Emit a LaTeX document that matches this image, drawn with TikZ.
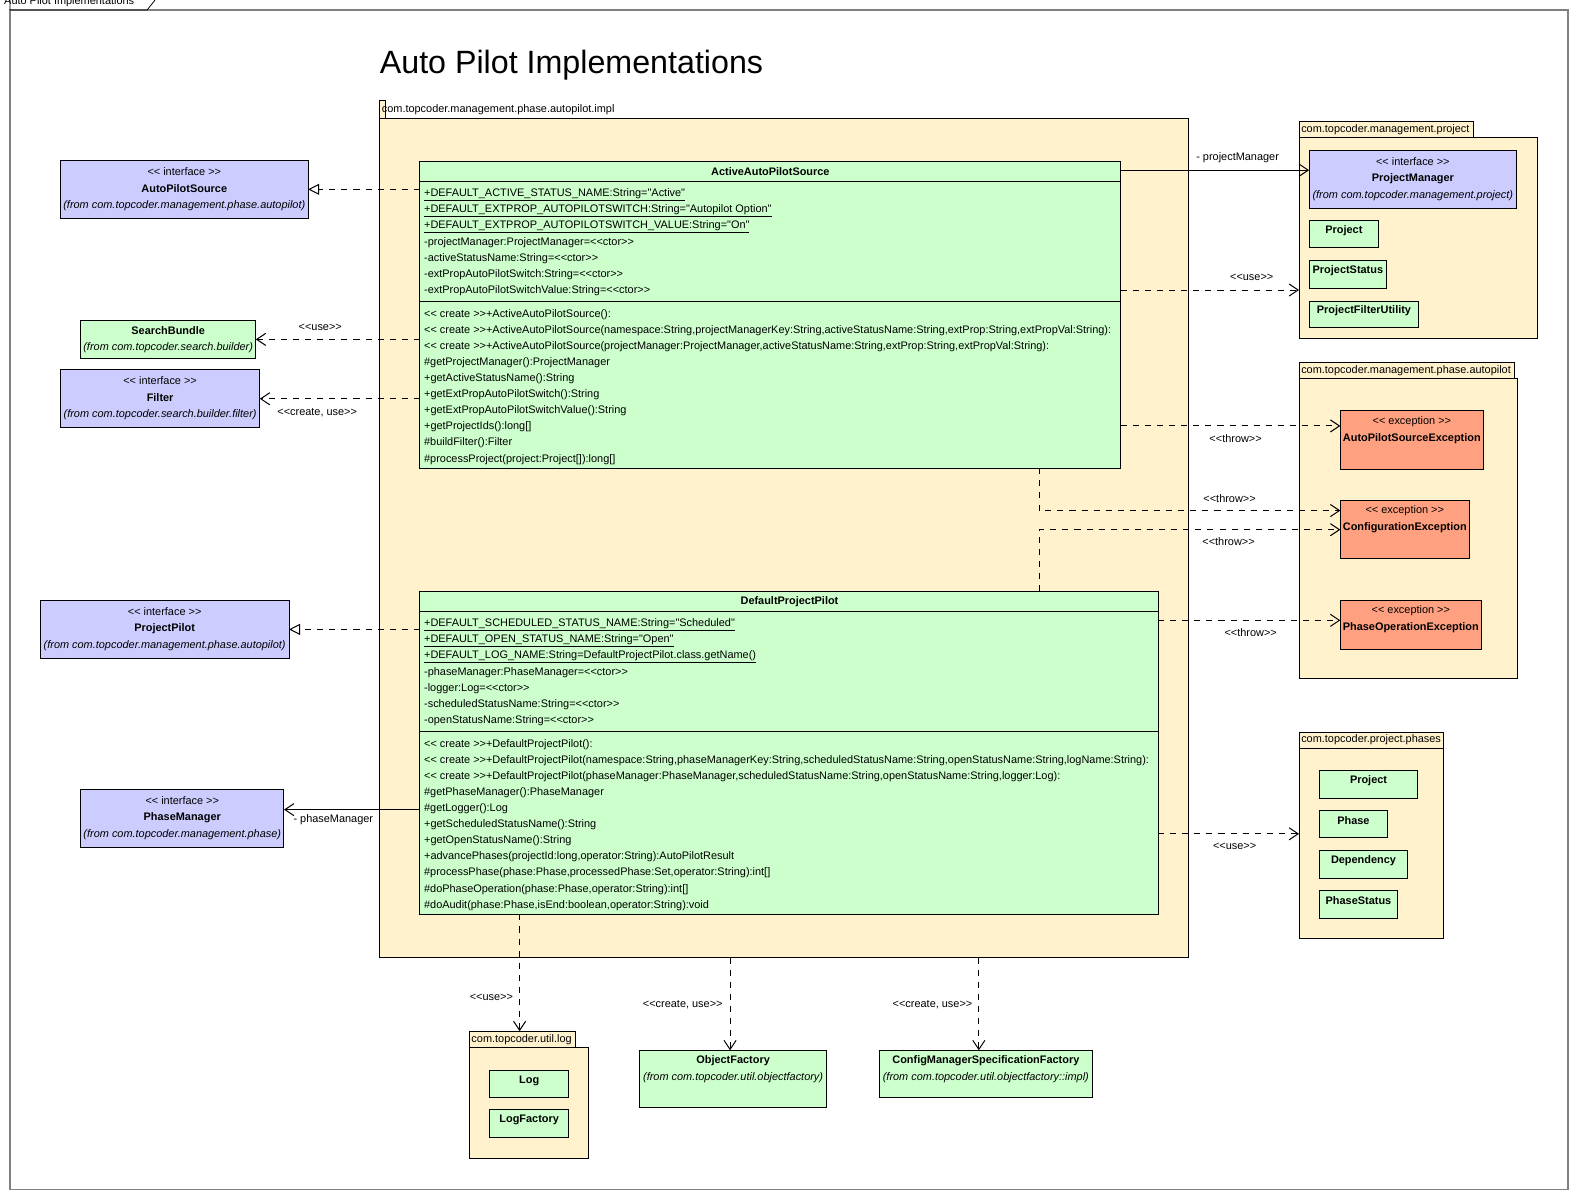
\documentclass[tikz,border=0pt]{standalone}
\usepackage{fontspec}
\setmainfont{Liberation Sans}[Ligatures=TeXOff]
\usepackage{xcolor}
\usetikzlibrary{arrows.meta}
\usetikzlibrary{calc}

\definecolor{pkgcream}{RGB}{255,242,204}
\definecolor{clsgreen}{RGB}{204,255,204}
\definecolor{ifcblue}{RGB}{204,204,255}
\definecolor{excred}{RGB}{255,160,128}
\definecolor{framegray}{RGB}{128,128,128}

\begin{document}
\begin{tikzpicture}[x=1pt,y=-1pt]
        \tikzset{
          box/.style={draw=black, line width=1pt, anchor=north west, inner sep=0pt, outer sep=0pt},
          pkg/.style={box, fill=pkgcream},
          cls/.style={box, fill=clsgreen},
          ifc/.style={box, fill=ifcblue},
          exc/.style={box, fill=excred},
          txt/.style={inner sep=0pt, font=\fontsize{10.85}{13}\selectfont},
          row/.style={txt, anchor=west},
          bname/.style={txt, font=\fontsize{10.85}{13}\selectfont\bfseries},
          from/.style={txt, font=\fontsize{10.85}{13}\selectfont\itshape},
          lbl/.style={txt},
          dep/.style={line width=1pt, dash pattern=on 6pt off 6pt, -{Straight Barb[length=9pt,width=12pt]}},
          real/.style={line width=1pt, dash pattern=on 6pt off 6pt, -{Triangle[open,length=11pt,width=11pt]}},
          assoc/.style={line width=1pt, -{Straight Barb[length=9pt,width=12pt]}}
        }
        \useasboundingbox (0,0) rectangle (1569,1192);

        % — diagram frame and title —
        \draw[framegray, line width=1.3pt] (10,10) rectangle (1557,1181);
        \node[row, anchor=base west] (frm) at (4,4) {Auto Pilot Implementations};
        \draw[line width=0.8pt] (10,0) -- (10,10) -- (146,10) -- (154,0);
        \node[anchor=base west, inner sep=0pt, font=\fontsize{32}{36}\selectfont] (title) at (377,73) {Auto Pilot Implementations};

        % — packages —
        \node[pkg, minimum width=6, minimum height=18] (impl-tab) at (377,100) {};
        \node[pkg, minimum width=803, minimum height=833] (impl) at (377,118) {};
        \node[row] (impl-label) at (379,109) {com.topcoder.management.phase.autopilot.impl};
        \foreach \n/\xa/\ya/\w/\tw/\h/\name in {
            prjPkg/1290/121/237/173/199/com.topcoder.management.project,
            apPkg/1290/360/217/214/298/com.topcoder.management.phase.autopilot,
            phPkg/1290/727/143/143/189/com.topcoder.project.phases,
            logPkg/466/1024/118/105/110/com.topcoder.util.log} {
          \node[pkg, minimum width=\tw, minimum height=16] (\n-tab) at (\xa,\ya) {};
          \node[pkg, minimum width=\w, minimum height=\h] (\n) at (\xa,\ya+16) {};
          \node[row] (\n-label) at (\xa+2,\ya+8) {\name};
        }

        % — plain classes (name only) —
        \foreach \n/\xa/\ya/\w/\h/\name in {
            prj/1300/219/69/27/Project, prjSt/1300/259/77/27/ProjectStatus,
            prjFlt/1300/299/109/26/ProjectFilterUtility,
            phPrj/1310/765/98/28/Project, phPh/1310/805/68/27/Phase,
            phDep/1310/845/88/27/Dependency, phSt/1310/884/78/28/PhaseStatus,
            log/486/1063/79/27/Log, logF/486/1102/79/28/LogFactory} {
          \node[cls, minimum width=\w, minimum height=\h] (\n) at (\xa,\ya) {};
          \node[bname] (\n-name) at (\xa+\w/2,\ya+10) {\name};
        }

        % — interfaces —
        \foreach \n/\xa/\ya/\w/\name/\pk in {
            aps/60/159/246/AutoPilotSource/com.topcoder.management.phase.autopilot,
            flt/60/367/198/Filter/com.topcoder.search.builder.filter,
            pp/40/596/247/ProjectPilot/com.topcoder.management.phase.autopilot,
            pm/80/784/202/PhaseManager/com.topcoder.management.phase,
            prm/1300/149/206/ProjectManager/com.topcoder.management.project} {
          \node[ifc, minimum width=\w, minimum height=58] (\n) at (\xa,\ya) {};
          \node[txt] (\n-st) at (\xa+\w/2,\ya+11) {<< interface >>};
          \node[bname] (\n-name) at (\xa+\w/2,\ya+28) {\name};
          \node[from] (\n-from) at (\xa+\w/2,\ya+45) {(from \pk)};
        }

        % — classes from other components —
        \foreach \n/\xa/\ya/\w/\h/\name/\pk in {
            sb/80/318/174/38/SearchBundle/com.topcoder.search.builder,
            objf/635/1043/186/57/ObjectFactory/com.topcoder.util.objectfactory,
            cmsf/873/1043/212/47/ConfigManagerSpecificationFactory/com.topcoder.util.objectfactory::impl} {
          \node[cls, minimum width=\w, minimum height=\h] (\n) at (\xa,\ya) {};
          \node[bname] (\n-name) at (\xa+\w/2,\ya+10.5) {\name};
          \node[from] (\n-from) at (\xa+\w/2,\ya+27.5) {(from \pk)};
        }

        % — exceptions —
        \foreach \n/\ya/\w/\h/\name in {
            exA/408/142/58/AutoPilotSourceException,
            exC/497/128/58/ConfigurationException,
            exP/596/140/49/PhaseOperationException} {
          \node[exc, minimum width=\w, minimum height=\h] (\n) at (1331,\ya) {};
          \node[txt] (\n-st) at (1331+\w/2,\ya+10.5) {<< exception >>};
          \node[bname] (\n-name) at (1331+\w/2,\ya+27.5) {\name};
        }

        % — ActiveAutoPilotSource —
        \node[cls, minimum width=696, minimum height=305] (aaps) at (417,160) {};
        \node[bname] (aaps-name) at (765,170.5) {ActiveAutoPilotSource};
        \draw[line width=1pt] (417,180) -- (1113,180);
        \draw[line width=1pt] (417,299) -- (1113,299);
        \foreach \t [count=\i] in {
            \underline{+DEFAULT\_ACTIVE\_STATUS\_NAME:String="Active"},
            \underline{+DEFAULT\_EXTPROP\_AUTOPILOTSWITCH:String="Autopilot Option"},
            \underline{+DEFAULT\_EXTPROP\_AUTOPILOTSWITCH\_VALUE:String="On"},
            -projectManager:ProjectManager=<<ctor>>,
            -activeStatusName:String=<<ctor>>,
            -extPropAutoPilotSwitch:String=<<ctor>>,
            -extPropAutoPilotSwitchValue:String=<<ctor>>} {
          \node[row] (aaps-a\i) at (421,177+16*\i) {\t};
        }
        \foreach \t [count=\i] in {
            << create >>+ActiveAutoPilotSource():,
            {<< create >>+ActiveAutoPilotSource(namespace:String,projectManagerKey:String,activeStatusName:String,extProp:String,extPropVal:String):},
            {<< create >>+ActiveAutoPilotSource(projectManager:ProjectManager,activeStatusName:String,extProp:String,extPropVal:String):},
            \#getProjectManager():ProjectManager,
            +getActiveStatusName():String,
            +getExtPropAutoPilotSwitch():String,
            +getExtPropAutoPilotSwitchValue():String,
            +getProjectIds():long[],
            \#buildFilter():Filter,
            \#processProject(project:Project[]):long[]} {
          \node[row] (aaps-m\i) at (421,296+16*\i) {\t};
        }

        % — DefaultProjectPilot —
        \node[cls, minimum width=733, minimum height=321] (dpp) at (417,587) {};
        \node[bname] (dpp-name) at (784,597.5) {DefaultProjectPilot};
        \draw[line width=1pt] (417,607) -- (1150,607);
        \draw[line width=1pt] (417,726) -- (1150,726);
        \foreach \t [count=\i] in {
            \underline{+DEFAULT\_SCHEDULED\_STATUS\_NAME:String="Scheduled"},
            \underline{+DEFAULT\_OPEN\_STATUS\_NAME:String="Open"},
            \underline{+DEFAULT\_LOG\_NAME:String=DefaultProjectPilot.class.getName()},
            -phaseManager:PhaseManager=<<ctor>>,
            -logger:Log=<<ctor>>,
            -scheduledStatusName:String=<<ctor>>,
            -openStatusName:String=<<ctor>>} {
          \node[row] (dpp-a\i) at (421,604+16*\i) {\t};
        }
        \foreach \t [count=\i] in {
            << create >>+DefaultProjectPilot():,
            {<< create >>+DefaultProjectPilot(namespace:String,phaseManagerKey:String,scheduledStatusName:String,openStatusName:String,logName:String):},
            {<< create >>+DefaultProjectPilot(phaseManager:PhaseManager,scheduledStatusName:String,openStatusName:String,logger:Log):},
            \#getPhaseManager():PhaseManager,
            \#getLogger():Log,
            +getScheduledStatusName():String,
            +getOpenStatusName():String,
            {+advancePhases(projectId:long,operator:String):AutoPilotResult},
            {\#processPhase(phase:Phase,processedPhase:Set,operator:String):int[]},
            {\#doPhaseOperation(phase:Phase,operator:String):int[]},
            {\#doAudit(phase:Phase,isEnd:boolean,operator:String):void}} {
          \node[row] (dpp-m\i) at (421,723+16*\i) {\t};
        }

        % — realizations and associations —
        \draw[real]  (aaps.west |- aps.east) -- (aps.east);
        \draw[real]  (dpp.west |- pp.east) -- (pp.east);
        \draw[assoc] (aaps.east |- 0,169) -- (prm.west |- 0,169);
        \draw[assoc] (dpp.west |- 0,804) -- (pm.east |- 0,804);

        % — dependencies —
        \draw[dep] (aaps.west |- sb.east) -- (sb.east);
        \draw[dep] (aaps.west |- flt.east) -- (flt.east);
        \draw[dep] (aaps.east |- 0,288) -- (prjPkg.west |- 0,288);
        \draw[dep] (aaps.east |- 0,423) -- (exA.west |- 0,423);
        \draw[dep] (aaps.south -| 1032,0) |- (exC.west |- 0,507);
        \draw[dep] (dpp.north -| 1032,0) |- (exC.west |- 0,526);
        \draw[dep] (dpp.east |- 0,616) -- (exP.west |- 0,616);
        \draw[dep] (dpp.east |- 0,828) -- (phPkg.west |- 0,828);
        \draw[dep] (dpp.south -| 516,0) -- (logPkg-tab.north -| 516,0);
        \draw[dep] (impl.south -| 725,0) -- (objf.north -| 725,0);
        \draw[dep] (impl.south -| 972,0) -- (cmsf.north -| 972,0);

        % — connector labels —
        \node[lbl] (l-prm)  at (1229,157) {- projectManager};
        \node[lbl] (l-use1) at (1243,275) {<<use>>};
        \node[lbl] (l-thr1) at (1227,436) {<<throw>>};
        \node[lbl] (l-thr2) at (1221,495) {<<throw>>};
        \node[lbl] (l-thr3) at (1220,538) {<<throw>>};
        \node[lbl] (l-thr4) at (1242,628) {<<throw>>};
        \node[lbl] (l-use2) at (1226,840) {<<use>>};
        \node[lbl] (l-use3) at (318,325)  {<<use>>};
        \node[lbl] (l-cu1)  at (315,410)  {<<create, use>>};
        \node[lbl] (l-pm)   at (331,814)  {- phaseManager};
        \node[lbl] (l-use4) at (488,990)  {<<use>>};
        \node[lbl] (l-cu2)  at (678,998)  {<<create, use>>};
        \node[lbl] (l-cu3)  at (926,998)  {<<create, use>>};
\end{tikzpicture}
\end{document}
